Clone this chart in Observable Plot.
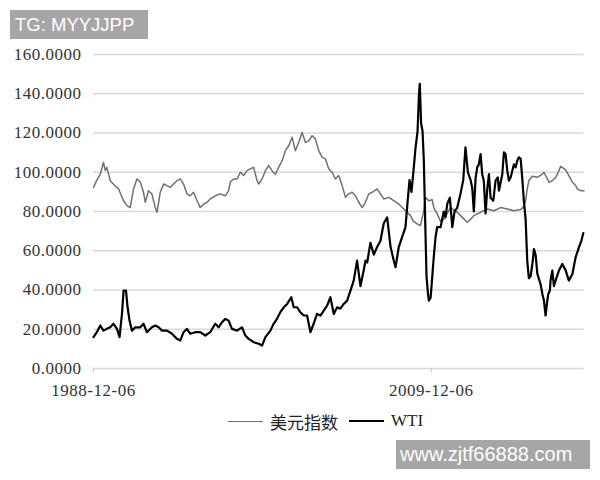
<!DOCTYPE html>
<html>
<head>
<meta charset="utf-8">
<script src="https://cdn.jsdelivr.net/npm/d3@7"></script>
<script src="https://cdn.jsdelivr.net/npm/@observablehq/plot@0.6"></script>
<style>
  html, body { margin: 0; padding: 0; background: #fff; }
  #wrap { position: relative; width: 600px; height: 480px; overflow: hidden; }
  .wm { position: absolute; background: #a6a6a6; color: #fff; font-family: "Liberation Sans", Arial, sans-serif; white-space: nowrap; }
  #wm1 { left: 10px; top: 10px; width: 138px; height: 29px; font-size: 18.5px; line-height: 29px; padding-left: 5px; box-sizing: border-box; }
  #wm2 { left: 396px; top: 440px; width: 194px; height: 29px; font-size: 20px; line-height: 29px; padding-left: 4px; box-sizing: border-box; }
  #legend { position: absolute; left: 0; top: 401px; width: 600px; height: 40px; display: flex; align-items: center; padding-left: 228px; box-sizing: border-box; }
  .sw { display: inline-block; width: 35px; margin-right: 7px; }
  .lt { font-size: 17px; color: #222; margin-right: 11px; }
  #chart svg text { letter-spacing: 0.5px; }
</style>
</head>
<body>
<div id="wrap">
  <div id="chart"></div>
  <div id="legend"></div>
  <div class="wm" id="wm1">TG: MYYJJPP</div>
  <div class="wm" id="wm2">www.zjtf66888.com</div>
</div>
<script>
// Series names
const seriesNames = ["美元指数", "WTI"];

// Y ticks
const yTicks = [0, 20, 40, 60, 80, 100, 120, 140, 160];

// X tick positions (decimal year) and labels
const xTicks = [1988.93, 2009.93];
const xTickLabels = ["1988-12-06", "2009-12-06"];

// US dollar index (美元指数)
const usdYears = [1988.93,1989.14,1989.35,1989.55,1989.66,1989.76,1989.97,1990.28,1990.49,1990.80,1991.01,1991.21,1991.42,1991.63,1991.84,1992.04,1992.15,1992.35,1992.56,1992.77,1992.88,1993.08,1993.29,1993.50,1993.70,1993.91,1994.12,1994.33,1994.53,1994.74,1994.95,1995.15,1995.37,1995.57,1995.78,1995.99,1996.19,1996.50,1996.82,1997.13,1997.33,1997.44,1997.64,1997.86,1998.06,1998.27,1998.48,1998.68,1998.89,1999.10,1999.20,1999.41,1999.62,1999.82,2000.03,2000.24,2000.44,2000.66,2000.86,2001.07,2001.28,2001.48,2001.69,2001.90,2002.11,2002.31,2002.52,2002.73,2002.93,2003.15,2003.35,2003.56,2003.77,2003.97,2004.18,2004.39,2004.60,2004.80,2005.01,2005.22,2005.42,2005.64,2005.84,2006.05,2006.26,2006.57,2006.77,2006.98,2007.29,2007.60,2007.91,2008.22,2008.44,2008.64,2008.83,2009.06,2009.26,2009.47,2009.57,2009.78,2009.99,2010.09,2010.30,2010.51,2010.71,2010.93,2011.13,2011.32,2011.55,2011.86,2012.17,2012.38,2012.58,2013.00,2013.42,2013.83,2014.24,2014.66,2015.07,2015.49,2015.69,2015.80,2015.90,2016.00,2016.22,2016.53,2016.84,2016.94,2017.15,2017.25,2017.46,2017.67,2017.77,2017.98,2018.29,2018.60,2018.71,2018.91,2019.02,2019.22,2019.43];
const usdValues = [92.3,96,99,105,101,102.5,95.7,93,91.5,85.5,83,82,91.5,96.6,95,89.8,84.7,90.6,89,82,79.6,89.8,94,93.2,92.3,94,95.7,96.6,94,89,88,89.8,85.5,82,83.8,84.7,86.4,88,89,88,90.6,95,96.6,96.6,100,98.3,100.8,101.7,102.5,95.7,94,96.6,100.8,103.4,100.8,99,102.5,105.9,111,113.5,117.8,111,115.2,120.3,115.2,116,118.6,117,111,107.6,106.8,101.7,100,96.6,98.3,93.2,87.2,89,89.8,88,84.7,82,84.7,89,89.8,91.5,89,86.4,87.2,85.5,83.8,81.3,79.6,77.9,75,73.7,72.8,80.4,87.2,85.5,86,82,78.8,75,76,79,82,81,79.6,77,74.5,76,77.9,79.6,81.3,80.4,82,81.3,80.4,81,82.5,85.5,91.5,95.7,98,97.4,99,100,96.6,94.9,95.7,97.4,99,103,101.2,96.6,94.9,93.2,91.5,90.6,90.6];

// WTI crude oil
const wtiYears = [1988.93,1989.14,1989.35,1989.55,1989.76,1989.97,1990.17,1990.39,1990.55,1990.70,1990.80,1990.95,1991.05,1991.17,1991.32,1991.53,1991.84,1992.04,1992.25,1992.56,1992.77,1992.98,1993.19,1993.50,1993.81,1994.12,1994.33,1994.53,1994.74,1994.95,1995.26,1995.57,1995.88,1996.19,1996.50,1996.71,1996.92,1997.13,1997.33,1997.54,1997.86,1998.17,1998.37,1998.58,1998.89,1999.20,1999.41,1999.62,1999.93,2000.13,2000.34,2000.55,2000.76,2000.97,2001.23,2001.38,2001.59,2001.79,2002.00,2002.21,2002.42,2002.62,2002.83,2003.04,2003.25,2003.46,2003.66,2003.87,2004.08,2004.28,2004.49,2004.70,2004.91,2005.11,2005.32,2005.53,2005.73,2005.84,2005.95,2006.15,2006.36,2006.57,2006.77,2006.98,2007.19,2007.40,2007.60,2007.71,2007.91,2008.12,2008.33,2008.45,2008.58,2008.70,2008.83,2008.95,2009.08,2009.17,2009.22,2009.30,2009.39,2009.47,2009.57,2009.64,2009.73,2009.78,2009.89,2009.95,2010.07,2010.20,2010.30,2010.51,2010.71,2010.82,2010.93,2011.09,2011.24,2011.38,2011.55,2011.75,2011.92,2012.06,2012.21,2012.38,2012.48,2012.58,2012.69,2012.79,2012.89,2013.00,2013.10,2013.20,2013.31,2013.42,2013.52,2013.62,2013.79,2013.93,2014.07,2014.14,2014.35,2014.45,2014.55,2014.66,2014.76,2014.87,2015.07,2015.18,2015.28,2015.38,2015.49,2015.59,2015.69,2015.80,2015.90,2016.00,2016.11,2016.22,2016.32,2016.42,2016.53,2016.73,2016.84,2016.94,2017.04,2017.15,2017.21,2017.31,2017.35,2017.46,2017.56,2017.73,2017.87,2018.08,2018.29,2018.49,2018.71,2018.91,2019.12,2019.27,2019.39];
const wtiValues = [16,18.5,21.9,19.3,20.2,21,22.8,20.2,16,27.8,39.7,39.7,31.2,24.4,19.3,21,21,22.8,18.5,21,21.9,21,19.3,19.3,17.7,15.1,14.3,18.5,20.2,17.7,18.5,18.5,16.8,18.5,22.8,21,23.6,25.3,24.4,20.2,19.3,21,16.8,15.1,13.4,12.6,11.7,16,19.3,22.8,25.3,28.7,31.2,32.9,36.3,31.2,31.2,28.7,27,27,18.5,22.8,27.8,27,29.5,32.1,36.3,27.8,31.2,30.5,32.9,34.6,39.7,44.8,55,42,49.9,55,54,64,58,62,65,74,77,62,55,51.6,61.8,66.9,72,84,96,90,101,112,121,140,145,125,121,106,70,46.5,38,34.6,36,42,55,67,72,72,80,77,84,87,72,80,82,89,96,112.7,100,96,92,80,97,102.5,104,109.3,99,95.7,79,92,99,87,85.5,95.7,97.4,90.6,99,110.2,109.3,100.8,95.7,97.4,104,102.5,105.9,107.6,106.8,97,85.5,76,55,46,47,53.3,60.9,58,48.2,43,38,34.6,27,34.6,38,39.7,44.8,49.9,42,46.5,49.9,53.3,50,44.8,48.2,56.7,61.8,65.2,69];

const usd = usdYears.map((t, i) => ({t, v: usdValues[i]}));
const wti = wtiYears.map((t, i) => ({t, v: wtiValues[i]}));

const colors = ["#707070", "#000000"];
const widths = [1.5, 2.2];

const serif = "'Liberation Serif', 'Times New Roman', serif";

const chart = Plot.plot({
  width: 600,
  height: 400,
  marginLeft: 93,
  marginRight: 16.5,
  marginTop: 54,
  marginBottom: 32,
  style: {fontFamily: serif, fontSize: "17px", color: "#333", background: "#fff"},
  x: {type: "linear", domain: [1988.93, 2019.43]},
  y: {domain: [0, 160]},
  marks: [
    Plot.gridY(yTicks, {stroke: "#d9d9d9", strokeOpacity: 1, strokeWidth: 1.5}),
    Plot.axisY(yTicks, {tickSize: 0, tickPadding: 12, tickFormat: d3.format(".4f"), fontSize: 17, label: null}),
    Plot.axisX(xTicks, {tickSize: 4, tickPadding: 11, stroke: "#c8c8c8", tickFormat: (d) => xTickLabels[xTicks.indexOf(d)], fontSize: 17, label: null}),
    Plot.lineY(usd, {x: "t", y: "v", stroke: colors[0], strokeWidth: widths[0]}),
    Plot.lineY(wti, {x: "t", y: "v", stroke: colors[1], strokeWidth: widths[1]})
  ]
});
document.getElementById("chart").appendChild(chart);

const legend = document.getElementById("legend");
seriesNames.forEach((name, i) => {
  const sw = document.createElement("span");
  sw.className = "sw";
  sw.style.borderTop = `${widths[i]}px solid ${colors[i]}`;
  legend.appendChild(sw);
  const lt = document.createElement("span");
  lt.className = "lt";
  lt.textContent = name;
  lt.style.fontFamily = i === 0 ? "'Noto Sans CJK SC', sans-serif" : serif;
  legend.appendChild(lt);
});
</script>
</body>
</html>
